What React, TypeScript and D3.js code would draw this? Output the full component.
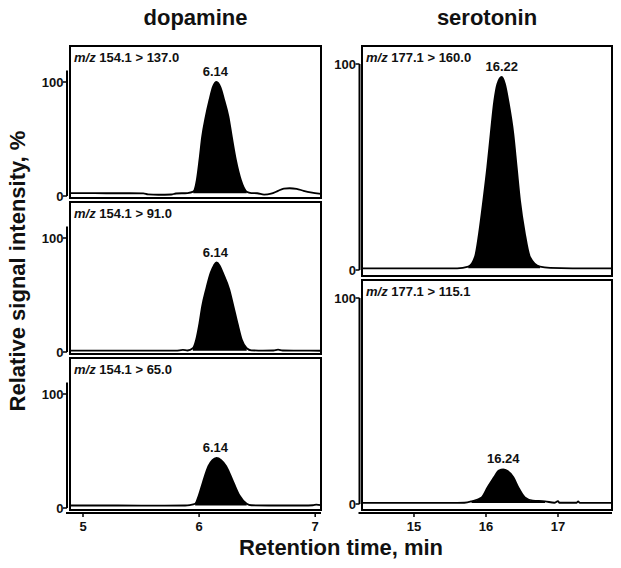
import React from "react";
import * as d3 from "d3";

type Pt = [number, number];

// ---- data (time in min, relative intensity in %) ----
const compounds = ["dopamine", "serotonin"];
const transitionsDA = ["154.1 > 137.0", "154.1 > 91.0", "154.1 > 65.0"];
const transitionsSER = ["177.1 > 160.0", "177.1 > 115.1"];
const peakLabelsDA = ["6.14", "6.14", "6.14"];
const peakLabelsSER = ["16.22", "16.24"];
const xTicksDA = [5, 6, 7];
const xTicksSER = [15, 16, 17];
const yTicks = [0, 100];

const da137: Pt[] = [
  [4.89, 2.5], [5.0, 2.5], [5.2, 2.4], [5.4, 2.4], [5.52, 2.3], [5.56, 1.4], [5.65, 1.1], [5.76, 1.3], [5.8, 2.2], [5.9, 2.6],
  [5.95, 3.8], [5.98, 14], [6.003, 31.6], [6.026, 51.8], [6.057, 69.6], [6.089, 84.2], [6.12, 96], [6.15, 100], [6.185, 95],
  [6.216, 84.2], [6.253, 69.6], [6.282, 51.8], [6.317, 31.6], [6.36, 14], [6.41, 3.8],
  [6.45, 2.6], [6.5, 2.4], [6.56, 1.2], [6.62, 2.0], [6.68, 4.5], [6.73, 6.5], [6.78, 6.8], [6.84, 6.2], [6.9, 4.6], [6.96, 3.2], [7.05, 1.8],
];
const da91: Pt[] = [
  [4.89, 1.2], [5.2, 1.2], [5.5, 1.2], [5.8, 1.2], [5.86, 1.8], [5.9, 1.3],
  [5.946, 3.3], [5.974, 10.6], [6.003, 25.4], [6.026, 40], [6.06, 54.9], [6.1, 69.6], [6.128, 76], [6.15, 78.5], [6.176, 76],
  [6.204, 69.6], [6.26, 54.9], [6.296, 40], [6.33, 25.4], [6.368, 10.6], [6.41, 3.3],
  [6.45, 1.5], [6.55, 1.2], [6.64, 1.3], [6.68, 2.0], [6.72, 1.3], [6.85, 1.2], [7.05, 1.1],
];
const da65: Pt[] = [
  [4.89, 2.2], [5.3, 2.2], [5.7, 2.1], [5.88, 2.2], [5.92, 2.6],
  [5.966, 3.7], [5.997, 10.9], [6.032, 22.4], [6.08, 36.7], [6.115, 42], [6.15, 44], [6.19, 42], [6.233, 36.7],
  [6.296, 22.4], [6.348, 10.9], [6.41, 3.7],
  [6.45, 2.4], [6.6, 2.2], [6.9, 2.2], [6.98, 2.4], [7.01, 3.0], [7.05, 2.5],
];
const ser160: Pt[] = [
  [14.28, 0.8], [14.8, 0.8], [15.3, 0.8], [15.6, 0.8],
  [15.754, 1.6], [15.847, 6.4], [15.903, 17.7], [15.963, 33.8], [16.018, 49.9], [16.065, 66], [16.115, 82.1], [16.157, 90.2],
  [16.218, 93.7], [16.264, 90.2], [16.31, 82.1], [16.38, 66], [16.426, 49.9], [16.472, 33.8], [16.54, 17.7], [16.61, 6.4], [16.75, 1.6],
  [16.89, 1.0], [17.2, 0.8], [17.75, 0.8],
];
const ser115: Pt[] = [
  [14.28, 0.5], [15.0, 0.5], [15.5, 0.5], [15.7, 0.6],
  [15.8, 1.3], [15.94, 3.2], [16.023, 8.1], [16.111, 13], [16.18, 16.2], [16.24, 16.8], [16.3, 16.0], [16.38, 13], [16.449, 8.1],
  [16.54, 3.2], [16.65, 1.6], [16.82, 1.3],
  [16.95, 0.6], [17.0, 1.4], [17.02, 0.6], [17.26, 0.6], [17.28, 1.3], [17.3, 0.6], [17.75, 0.5],
];
const peakRangesDA: Pt[] = [[5.95, 6.41], [5.946, 6.41], [5.966, 6.41]];
const peakRangesSER: Pt[] = [[15.754, 16.75], [15.8, 16.82]];

const FONT = "'Liberation Sans', Arial, Helvetica, sans-serif";
const INK = "#111";

type Col = {
  x0: number; x1: number; axisX: number; domain: [number, number]; ticks: number[];
  tops: number[]; h: number; zeroOff: number; span: number; axisTop: number;
  series: Pt[][]; labels: string[]; peaks: string[]; ranges: Pt[]; title: string;
};

const cols: Col[] = [
  {
    x0: 70, x1: 321, axisX: 67, domain: [4.888, 7.05], ticks: xTicksDA,
    tops: [46, 202, 358], h: 152, zeroOff: 2, span: 114, axisTop: 110,
    series: [da137, da91, da65], labels: transitionsDA, peaks: peakLabelsDA, ranges: peakRangesDA, title: compounds[0],
  },
  {
    x0: 362, x1: 612, axisX: 359.5, domain: [14.278, 17.75], ticks: xTicksSER,
    tops: [46, 280], h: 230, zeroOff: 6, span: 206, axisTop: 100,
    series: [ser160, ser115], labels: transitionsSER, peaks: peakLabelsSER, ranges: peakRangesSER, title: compounds[1],
  },
];

function Column({ c }: { c: Col }) {
  const x = d3.scaleLinear().domain(c.domain).range([c.x0, c.x1]);
  const lastBottom = c.tops[c.tops.length - 1] + c.h;
  const axisY = lastBottom + 3;
  return (
    <g>
      <text x={(c.x0 + c.x1) / 2} y={25} textAnchor="middle" fontSize={22} fontWeight="bold" fontFamily={FONT} fill={INK}>
        {c.title}
      </text>
      {c.series.map((data, i) => {
        const top = c.tops[i];
        const bottom = top + c.h;
        const y = d3.scaleLinear().domain([0, 100]).range([bottom - c.zeroOff, bottom - c.zeroOff - c.span]);
        const line = d3.line<Pt>().x((d) => x(d[0])).y((d) => y(d[1])).curve(d3.curveMonotoneX);
        const [s, e] = c.ranges[i];
        const seg = data.filter((d) => d[0] >= s - 1e-9 && d[0] <= e + 1e-9);
        const base = data[0][1];
        const area = d3.area<Pt>().x((d) => x(d[0])).y0(y(base)).y1((d) => y(d[1])).curve(d3.curveMonotoneX);
        const maxPt = data.reduce((m, d) => (d[1] > m[1] ? d : m), data[0]);
        const px = parseFloat(c.peaks[i]);
        return (
          <g key={i}>
            <rect x={c.x0} y={top} width={c.x1 - c.x0} height={c.h} fill="none" stroke="#000" strokeWidth={2} />
            <path d={area(seg) || ""} fill="#000" stroke="none" />
            <path d={line(data) || ""} fill="none" stroke="#000" strokeWidth={1.8} />
            {/* y axis */}
            <line x1={c.axisX} x2={c.axisX} y1={y(0)} y2={y(c.axisTop)} stroke="#000" strokeWidth={2} />
            {yTicks.map((t) => (
              <g key={t}>
                <line x1={c.axisX - 4} x2={c.axisX} y1={y(t)} y2={y(t)} stroke="#000" strokeWidth={1.5} />
                <text x={c.axisX - 3.5} y={y(t)} dy="0.36em" textAnchor="end" fontSize={13} fontWeight="bold" fontFamily={FONT} fill={INK}>
                  {t}
                </text>
              </g>
            ))}
            <text x={c.x0 + 4} y={top + 16} fontSize={13} fontWeight="bold" fontFamily={FONT} fill={INK}>
              <tspan fontStyle="italic">m/z</tspan>
              <tspan> {c.labels[i]}</tspan>
            </text>
            <text x={x(px)} y={y(maxPt[1]) - 6} textAnchor="middle" fontSize={13} fontWeight="bold" fontFamily={FONT} fill={INK}>
              {c.peaks[i]}
            </text>
          </g>
        );
      })}
      {/* x axis */}
      <line x1={c.axisX - 1} x2={c.x1} y1={axisY} y2={axisY} stroke="#000" strokeWidth={2} />
      {c.ticks.map((t) => (
        <g key={t}>
          <line x1={x(t)} x2={x(t)} y1={axisY} y2={axisY + 4} stroke="#000" strokeWidth={1.5} />
          <text x={x(t)} y={axisY + 18} textAnchor="middle" fontSize={13} fontWeight="bold" fontFamily={FONT} fill={INK}>
            {t}
          </text>
        </g>
      ))}
    </g>
  );
}

export default function App() {
  return (
    <svg width={621} height={568} viewBox="0 0 621 568" style={{ position: "absolute", left: 0, top: 0, background: "#fff" }}>
      <rect width={621} height={568} fill="#fff" />
      {cols.map((c, i) => (
        <Column key={i} c={c} />
      ))}
      <text transform="translate(25,271) rotate(-90)" textAnchor="middle" fontSize={22} fontWeight="bold" fontFamily={FONT} fill={INK}>
        Relative signal intensity, %
      </text>
      <text x={341} y={555} textAnchor="middle" fontSize={22} fontWeight="bold" fontFamily={FONT} fill={INK}>
        Retention time, min
      </text>
    </svg>
  );
}
